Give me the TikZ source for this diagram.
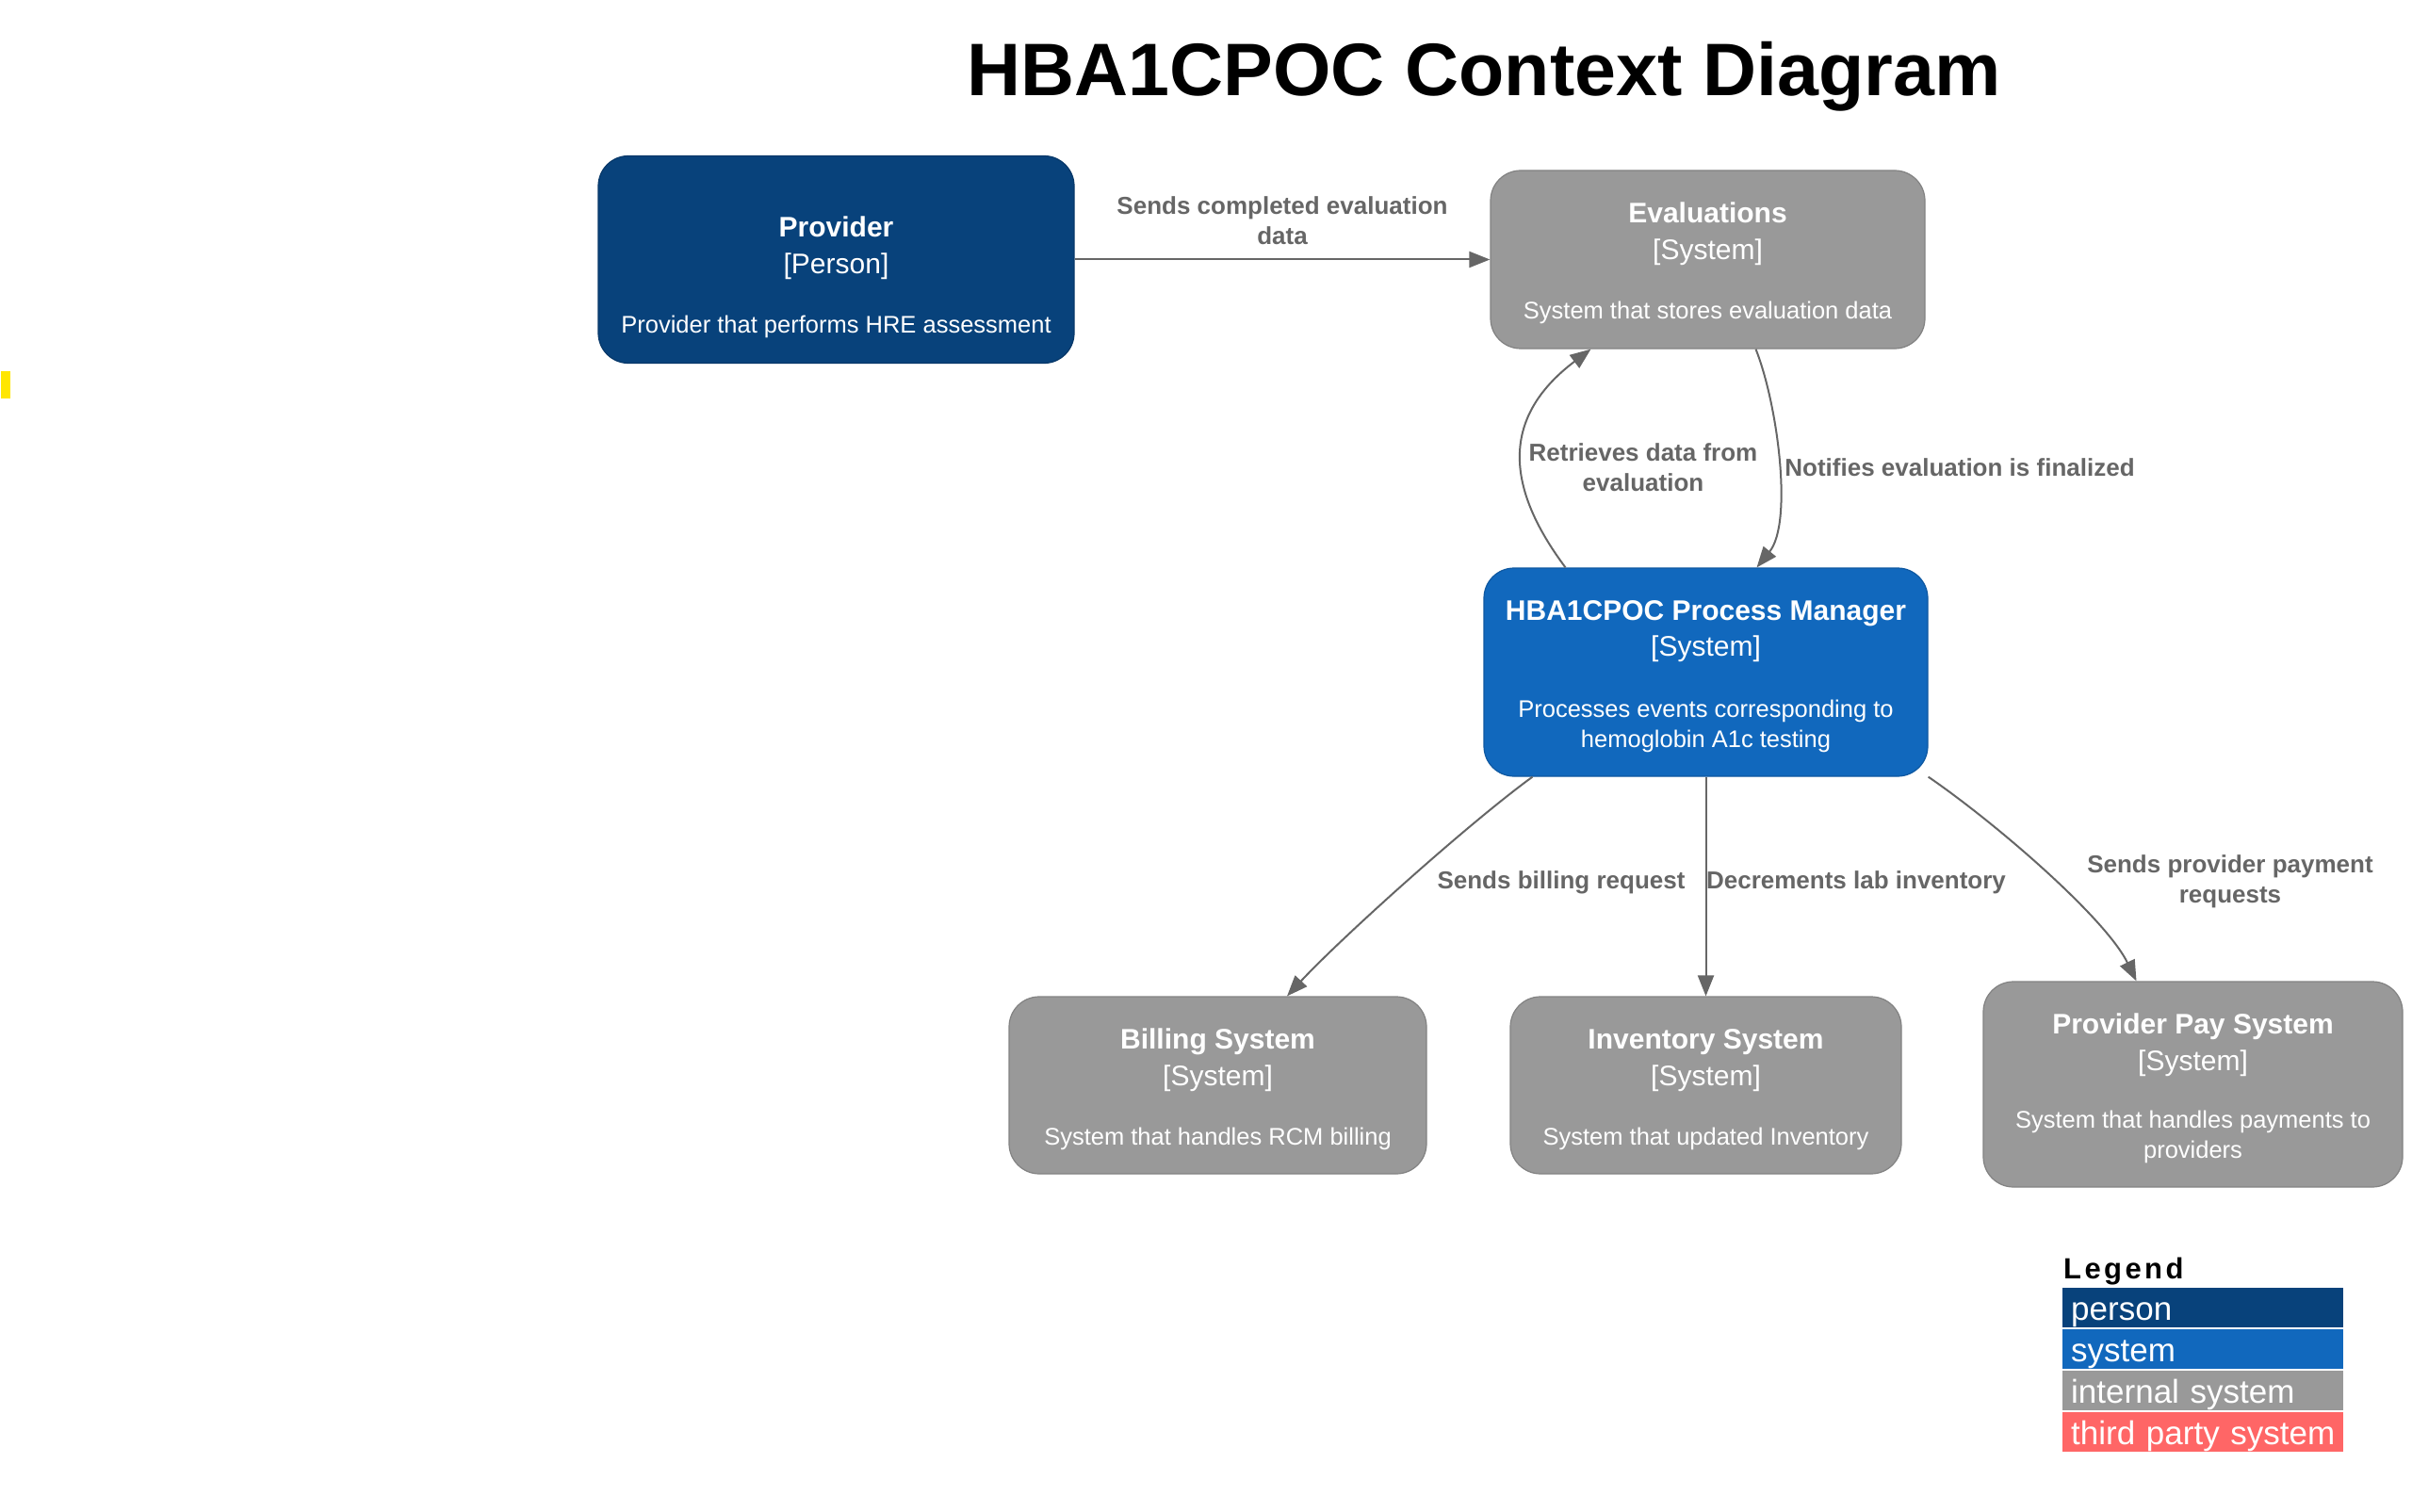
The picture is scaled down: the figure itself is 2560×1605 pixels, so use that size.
\documentclass[tikz,border=0pt]{standalone}
\usepackage{fontspec}
\setmainfont{Liberation Sans}
\usepackage{xcolor}
\usetikzlibrary{arrows.meta,positioning}

\definecolor{personblue}{HTML}{08427B}
\definecolor{systemblue}{HTML}{1168BD}
\definecolor{internalgrey}{HTML}{999999}
\definecolor{thirdred}{HTML}{FF6666}
\definecolor{relgrey}{HTML}{666666}
\definecolor{markyellow}{HTML}{FFE600}

\tikzset{
  ctxbox/.style={rounded corners=32pt, fill=#1, draw=#1!85!black, line width=1.2pt, inner sep=0pt},
  boxtitle/.style={text=white, anchor=base, font=\fontsize{30}{36}\selectfont\bfseries},
  boxtype/.style={text=white, anchor=base, font=\fontsize{30}{36}\selectfont},
  boxdesc/.style={text=white, anchor=base, align=center, font=\fontsize{25.5}{31.5}\selectfont},
  rel/.style={draw=relgrey, line width=2pt, -{Triangle[length=22pt,width=17pt]}},
  rellabel/.style={text=relgrey, anchor=base, align=center, font=\fontsize{26}{32}\selectfont\bfseries},
  legitem/.style={anchor=north west, text=white, inner xsep=0pt, inner ysep=0pt, text height=34pt, text depth=8pt, text width=298pt, align=left, execute at begin node=\hspace*{9pt}, font=\fontsize{35}{40}\selectfont}
}

\begin{document}
\begin{tikzpicture}[x=1pt, y=-1pt]
  \useasboundingbox (0,0) rectangle (2560,1605);
  \fill[markyellow] (1,394) rectangle (11,423);

  \node[anchor=base, font=\fontsize{79}{90}\selectfont\bfseries] (title) at (1575,102) {HBA1CPOC Context Diagram};

  % boxes
  \node[ctxbox=personblue, minimum width=505pt, minimum height=220pt] (provider) at (887.5,275.5) {};
  \node[boxtitle] (providerT) at (887.5,252) {Provider};
  \node[boxtype] (providerK) at (887.5,291) {[Person]};
  \node[boxdesc] (providerD) at (887.5,353) {Provider that performs HRE assessment};

  \node[ctxbox=internalgrey, minimum width=461pt, minimum height=189pt] (evals) at (1812.5,275.5) {};
  \node[boxtitle] (evalsT) at (1812.5,237) {Evaluations};
  \node[boxtype] (evalsK) at (1812.5,276) {[System]};
  \node[boxdesc] (evalsD) at (1812.5,338) {System that stores evaluation data};

  \node[ctxbox=systemblue, minimum width=471pt, minimum height=221pt] (pm) at (1810.5,713.5) {};
  \node[boxtitle] (pmT) at (1810.5,658) {HBA1CPOC Process Manager};
  \node[boxtype] (pmK) at (1810.5,696) {[System]};
  \node[boxdesc] (pmD) at (1810.5,793) {Processes events corresponding to\\hemoglobin A1c testing};

  \node[ctxbox=internalgrey, minimum width=443pt, minimum height=188pt] (billing) at (1292.5,1152) {};
  \node[boxtitle] (billingT) at (1292.5,1113) {Billing System};
  \node[boxtype] (billingK) at (1292.5,1152) {[System]};
  \node[boxdesc] (billingD) at (1292.5,1215) {System that handles RCM billing};

  \node[ctxbox=internalgrey, minimum width=415pt, minimum height=188pt] (inventory) at (1810.5,1152) {};
  \node[boxtitle] (inventoryT) at (1810.5,1113) {Inventory System};
  \node[boxtype] (inventoryK) at (1810.5,1152) {[System]};
  \node[boxdesc] (inventoryD) at (1810.5,1215) {System that updated Inventory};

  \node[ctxbox=internalgrey, minimum width=445pt, minimum height=218pt] (ppay) at (2327.5,1151) {};
  \node[boxtitle] (ppayT) at (2327.5,1097) {Provider Pay System};
  \node[boxtype] (ppayK) at (2327.5,1136) {[System]};
  \node[boxdesc] (ppayD) at (2327.5,1229) {System that handles payments to\\providers};

  % relations
  \draw[rel] (provider.east) -- (evals.west);
  \node[rellabel] (l1) at (1361,260) {Sends completed evaluation\\data};

  \draw[rel] ([xshift=-149pt]pm.north) .. controls (1600,520) and (1590,445) .. ([xshift=-124pt]evals.south);
  \node[rellabel] (l2) at (1744,521) {Retrieves data from\\evaluation};

  \draw[rel] ([xshift=51pt]evals.south) .. controls (1887,430) and (1903,555) .. ([xshift=54pt]pm.north);
  \node[rellabel] (l3) at (2080,505) {Notifies evaluation is finalized};

  \draw[rel] ([xshift=-184pt]pm.south) .. controls (1556,876) and (1421,998) .. ([xshift=73.5pt]billing.north);
  \node[rellabel] (l4) at (1657,943) {Sends billing request};

  \draw[rel] (pm.south) -- (inventory.north);
  \node[rellabel] (l5) at (1970,943) {Decrements lab inventory};

  \draw[rel] (pm.south east) .. controls (2120,875) and (2235,975) .. ([xshift=-60pt]ppay.north);
  \node[rellabel] (l6) at (2367,958) {Sends provider payment\\requests};

  % legend
  \node[anchor=base west, inner sep=0pt, font=\fontsize{31}{36}\selectfont\bfseries\addfontfeatures{LetterSpace=11}] (legend) at (2190,1357) {Legend};
  \node[legitem, fill=personblue] (lgperson) at (2189,1367) {person};
  \node[legitem, fill=systemblue] (lgsystem) at (2189,1411) {system};
  \node[legitem, fill=internalgrey] (lginternal) at (2189,1455) {internal system};
  \node[legitem, fill=thirdred] (lgthird) at (2189,1499) {third party system};
\end{tikzpicture}
\end{document}
